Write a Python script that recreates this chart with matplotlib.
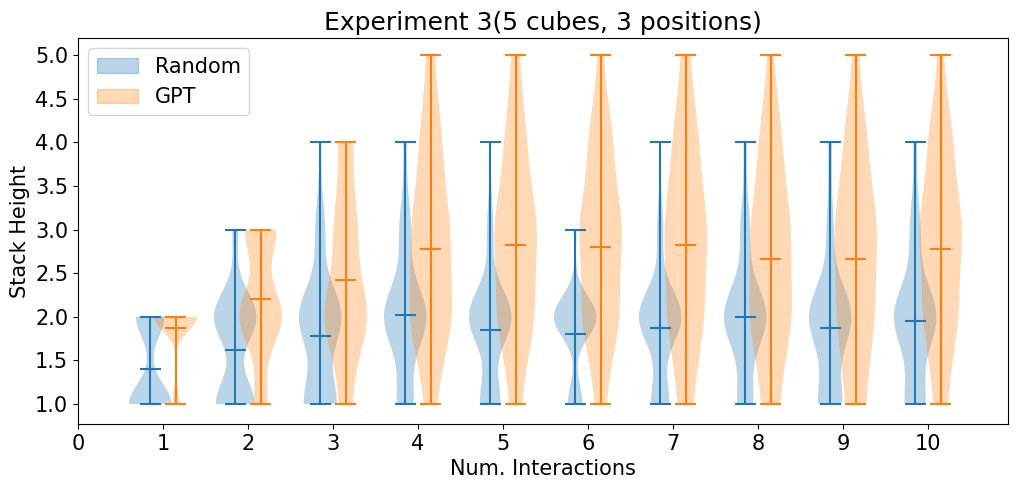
import numpy as np
import matplotlib
matplotlib.use("Agg")
import matplotlib.pyplot as plt
from matplotlib.patches import Patch

interactions = [1, 2, 3, 4, 5, 6, 7, 8, 9, 10]
heights = [1, 2, 3, 4, 5]
# counts of trials reaching each stack height (1..5), 45 trials per violin
random_counts = [
    [27, 18, 0, 0, 0],
    [20, 22, 3, 0, 0],
    [17, 22, 5, 1, 0],
    [10, 26, 7, 2, 0],
    [13, 27, 4, 1, 0],
    [11, 32, 2, 0, 0],
    [12, 28, 4, 1, 0],
    [10, 27, 6, 2, 0],
    [14, 25, 4, 2, 0],
    [12, 25, 6, 2, 0],
]
gpt_counts = [
    [6, 39, 0, 0, 0],
    [7, 22, 16, 0, 0],
    [6, 21, 11, 7, 0],
    [4, 16, 14, 8, 3],
    [4, 14, 16, 8, 3],
    [4, 14, 16, 9, 2],
    [5, 13, 15, 9, 3],
    [6, 15, 14, 8, 2],
    [7, 13, 15, 8, 2],
    [5, 13, 16, 9, 2],
]
series_names = ["Random", "GPT"]
title = "Experiment 3(5 cubes, 3 positions)"

fig = plt.figure(figsize=(10.18, 4.87), dpi=100)
ax = fig.add_axes([0.0766, 0.129, 0.9134, 0.793])

colors = ["C0", "C1"]
offsets = [-0.15, 0.15]
handles = []
for counts, off, col, name in zip([random_counts, gpt_counts], offsets, colors, series_names):
    data = [np.repeat(heights, c).astype(float) for c in counts]
    pos = [i + off for i in interactions]
    parts = ax.violinplot(data, positions=pos, showmeans=True)
    for b in parts["bodies"]:
        b.set_facecolor(col)
        b.set_edgecolor("none")
        b.set_alpha(0.3)
    for key in ["cmeans", "cmins", "cmaxes", "cbars"]:
        parts[key].set_color(col)
    handles.append(Patch(facecolor=col, edgecolor=col, alpha=0.3, label=name))

ax.set_xticks(range(0, 11))
ax.set_xlim(0, 10.94)
ax.set_ylim(0.77, 5.195)
ax.set_yticks(np.arange(1.0, 5.01, 0.5))
ax.set_yticklabels([f"{v:.1f}" for v in np.arange(1.0, 5.01, 0.5)])
ax.tick_params(labelsize=15)
ax.set_xlabel("Num. Interactions", fontsize=15)
ax.set_ylabel("Stack Height", fontsize=15)
ax.set_title(title, fontsize=18)
ax.legend(handles=handles, loc="upper left", fontsize=15)

fig.savefig("out.png", dpi=100)
